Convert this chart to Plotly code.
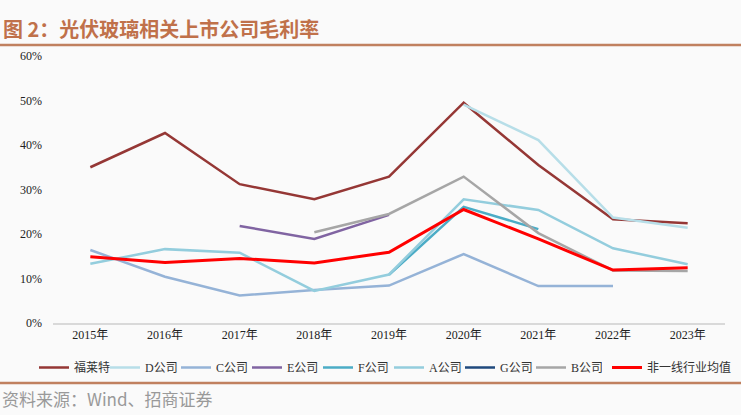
import plotly.graph_objects as go

years = ["2015年", "2016年", "2017年", "2018年", "2019年", "2020年", "2021年", "2022年", "2023年"]

flat = [0.350, 0.427, 0.312, 0.278, 0.329, 0.495, 0.355, 0.233, 0.224]
d_co = [None, None, None, None, None, 0.491, 0.411, 0.237, 0.214]
c_co = [0.164, 0.104, 0.062, 0.074, 0.084, 0.155, 0.083, 0.083, None]
e_co = [None, None, 0.218, 0.189, 0.243, None, None, None, None]
f_co = [None, None, None, None, 0.108, 0.261, 0.211, None, None]
a_co = [0.133, 0.166, 0.158, 0.072, 0.109, 0.278, 0.254, 0.168, 0.132]
g_co = [None, None, None, None, None, None, None, None, None]
b_co = [None, None, None, 0.204, 0.245, 0.329, 0.202, 0.118, 0.117]
avg = [0.149, 0.136, 0.145, 0.135, 0.159, 0.255, 0.189, 0.119, 0.124]

series = [
    ("福莱特", flat, "#953735", 2.5, "legend"),
    ("D公司", d_co, "#B7DEE8", 2.5, "legend"),
    ("C公司", c_co, "#95B3D7", 2.5, "legend"),
    ("E公司", e_co, "#8064A2", 2.5, "legend"),
    ("F公司", f_co, "#4BACC6", 2.5, "legend"),
    ("A公司", a_co, "#93CDDD", 2.5, "legend"),
    ("G公司", g_co, "#1F497D", 2.5, "legend"),
    ("B公司", b_co, "#A6A6A6", 2.5, "legend"),
    ("非一线行业均值", avg, "#FF0000", 3, "legend2"),
]

fig = go.Figure()
for name, vals, color, w, lg in series:
    fig.add_trace(go.Scatter(
        x=years, y=vals, name=name, mode="lines",
        line=dict(color=color, width=w),
        connectgaps=False, legend=lg,
    ))

bg = "#FAFAFA"
PW, PH = 672, 267
legfont = dict(family="Liberation Serif, Noto Sans CJK SC", size=12, color="#333333")
fig.update_layout(
    width=741, height=415,
    paper_bgcolor=bg, plot_bgcolor=bg,
    margin=dict(l=53, r=16, t=56, b=92, autoexpand=False),
    font=dict(family="Liberation Serif, Noto Sans CJK SC", size=12, color="#333333"),
    showlegend=True,
    legend=dict(
        orientation="h", x=(34 - 53) / PW, xanchor="left", y=-30 / PH, yanchor="top",
        font=legfont, itemwidth=30, bgcolor="rgba(0,0,0,0)", tracegroupgap=0,
        entrywidth=26, entrywidthmode="pixels", traceorder="normal",
    ),
    legend2=dict(
        orientation="h", x=(607 - 53) / PW, xanchor="left", y=-30 / PH, yanchor="top",
        font=legfont, itemwidth=30, bgcolor="rgba(0,0,0,0)",
    ),
    xaxis=dict(
        showgrid=False, showline=True, linecolor="#D9D9D9", linewidth=1.5,
        ticks="", tickfont=dict(size=12, color="#222222"),
        range=[-0.5, 8.5],
    ),
    yaxis=dict(
        range=[0, 0.6], tickformat=".0%", dtick=0.1,
        showgrid=False, zeroline=False, showline=False,
        ticks="", tickfont=dict(size=12, color="#222222"),
        ticklabelstandoff=10,
    ),
)

fig.add_annotation(
    text="<b>图 2：光伏玻璃相关上市公司毛利率</b>",
    xref="paper", yref="paper", x=-52 / PW, y=1 + 27 / PH,
    xanchor="left", yanchor="middle", showarrow=False,
    font=dict(family="Noto Sans CJK SC", size=20, color="#C0714A"),
)
fig.add_shape(type="line", xref="paper", yref="paper",
              x0=-53 / PW, x1=1 + 16 / PW, y0=1 + 11 / PH, y1=1 + 11 / PH,
              line=dict(color="#C0805F", width=2.5))
fig.add_shape(type="line", xref="paper", yref="paper",
              x0=-53 / PW, x1=1 + 16 / PW, y0=-60 / PH, y1=-60 / PH,
              line=dict(color="#C0805F", width=2.5))
fig.add_annotation(
    text="资料来源：Wind、招商证券",
    xref="paper", yref="paper", x=-53 / PW, y=-75 / PH,
    xanchor="left", yanchor="middle", showarrow=False,
    font=dict(family="Noto Sans CJK SC", size=17, color="#999999"),
)

fig.write_html("out.html", config={"displayModeBar": False},
               post_script="document.body.style.margin='0';")
